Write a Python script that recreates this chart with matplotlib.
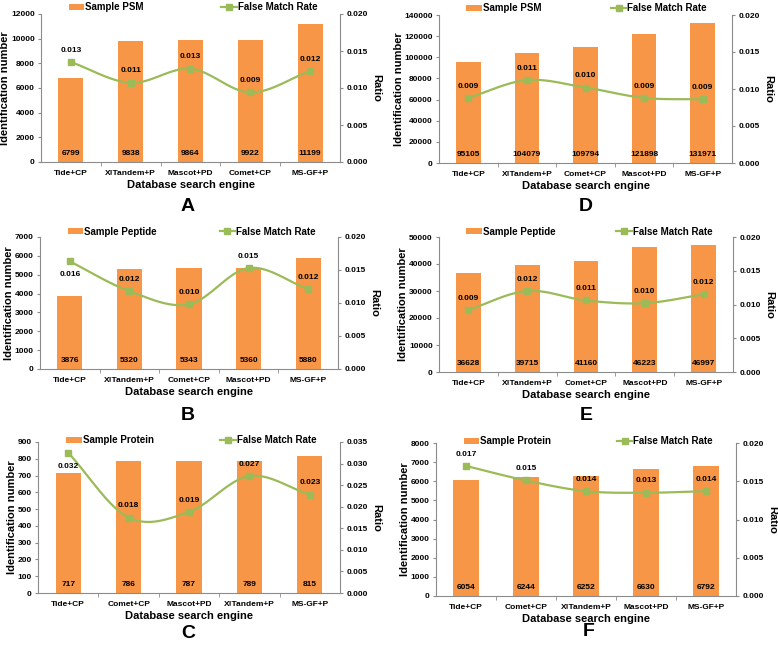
import numpy as np
import matplotlib
matplotlib.use("Agg")
import matplotlib.pyplot as plt
from matplotlib.lines import Line2D
from matplotlib.patches import Patch

plt.rcParams['font.family'] = ['Liberation Sans', 'DejaVu Sans']
plt.rcParams['font.weight'] = 'bold'

# ---------------- data ----------------
cats_A = ["Tide+CP", "X!Tandem+P", "Mascot+PD", "Comet+CP", "MS-GF+P"]
psm_A = [6799, 9838, 9864, 9922, 11199]
fmr_A = [0.0135, 0.0107, 0.0126, 0.0094, 0.0123]
fmr_lab_A = ["0.013", "0.011", "0.013", "0.009", "0.012"]

cats_D = ["Tide+CP", "X!Tandem+P", "Comet+CP", "Mascot+PD", "MS-GF+P"]
psm_D = [95105, 104079, 109794, 121898, 131971]
fmr_D = [0.0088, 0.0112, 0.0102, 0.0088, 0.0086]
fmr_lab_D = ["0.009", "0.011", "0.010", "0.009", "0.009"]

cats_B = ["Tide+CP", "X!Tandem+P", "Comet+CP", "Mascot+PD", "MS-GF+P"]
pep_B = [3876, 5320, 5343, 5360, 5880]
fmr_B = [0.0163, 0.0118, 0.0098, 0.0153, 0.0121]
fmr_lab_B = ["0.016", "0.012", "0.010", "0.015", "0.012"]

cats_E = ["Tide+CP", "X!Tandem+P", "Comet+CP", "Mascot+PD", "MS-GF+P"]
pep_E = [36628, 39715, 41160, 46223, 46997]
fmr_E = [0.0092, 0.0120, 0.0106, 0.0102, 0.0115]
fmr_lab_E = ["0.009", "0.012", "0.011", "0.010", "0.012"]

cats_C = ["Tide+CP", "Comet+CP", "Mascot+PD", "X!Tandem+P", "MS-GF+P"]
prot_C = [717, 786, 787, 789, 815]
fmr_C = [0.0325, 0.0175, 0.0188, 0.0271, 0.0228]
fmr_lab_C = ["0.032", "0.018", "0.019", "0.027", "0.023"]

cats_F = ["Tide+CP", "Comet+CP", "X!Tandem+P", "Mascot+PD", "MS-GF+P"]
prot_F = [6054, 6244, 6252, 6630, 6792]
fmr_F = [0.0170, 0.0151, 0.0137, 0.0135, 0.0137]
fmr_lab_F = ["0.017", "0.015", "0.014", "0.013", "0.014"]

BAR = "#F79646"
GREEN = "#9BBB59"
GRAY = "#8C8C8C"
W, H = 778, 645


def smooth(xs, ys, n=30):
    xs = np.asarray(xs, float); ys = np.asarray(ys, float)
    px = np.concatenate([[2 * xs[0] - xs[1]], xs, [2 * xs[-1] - xs[-2]]])
    py = np.concatenate([[2 * ys[0] - ys[1]], ys, [2 * ys[-1] - ys[-2]]])
    ox, oy = [], []
    for i in range(1, len(px) - 2):
        t = np.linspace(0, 1, n, endpoint=False)
        for arr, out in ((px, ox), (py, oy)):
            p0, p1, p2, p3 = arr[i - 1], arr[i], arr[i + 1], arr[i + 2]
            out.extend(0.5 * ((2 * p1) + (-p0 + p2) * t +
                              (2 * p0 - 5 * p1 + 4 * p2 - p3) * t ** 2 +
                              (-p0 + 3 * p1 - 3 * p2 + p3) * t ** 3))
    ox.append(xs[-1]); oy.append(ys[-1])
    return np.array(ox), np.array(oy)


def panel(px_box, cats, vals, fmr, fmr_lab, ymax, ystep, rmax, rstep,
          bar_label, letter, letter_xy, lab_below=(), leg_y=1.02,
          leg_x=(0.08, 0.59)):
    fig = plt.gcf()
    l, t, r, b = px_box
    ax = fig.add_axes([l / W, 1 - b / H, (r - l) / W, (b - t) / H])
    x = np.arange(len(cats))
    ax.bar(x, vals, width=0.42, color=BAR, zorder=2)
    for xi, v in zip(x, vals):
        ax.text(xi, ymax * 0.035, f"{v}", ha="center", va="bottom",
                fontsize=6, fontweight="bold", zorder=5)
    ax.set_xlim(-0.5, len(cats) - 0.5)
    ax.set_ylim(0, ymax)
    yt = np.arange(0, ymax + ystep / 2, ystep)
    ax.set_yticks(yt)
    ax.set_yticklabels([f"{int(v)}" for v in yt])
    ax.set_xticks(x)
    ax.set_xticklabels(cats)
    ax.set_xticks(np.arange(0.5, len(cats) - 0.5, 1), minor=True)
    ax.tick_params(axis="x", which="major", length=0, pad=6, labelsize=6)
    ax.tick_params(axis="x", which="minor", length=3, color=GRAY, direction="out")
    ax.tick_params(axis="y", length=2.5, color=GRAY, labelsize=6, pad=2)
    for s in ("top", "right"):
        ax.spines[s].set_visible(False)
    for s in ("left", "bottom"):
        ax.spines[s].set_color(GRAY)
        ax.spines[s].set_linewidth(0.8)
    ax.set_ylabel("Identification number", fontsize=8, fontweight="bold", labelpad=0.5)
    ax.set_xlabel("Database search engine", fontsize=8, fontweight="bold", labelpad=2)

    ax2 = ax.twinx()
    ax2.set_ylim(0, rmax)
    rt = np.arange(0, rmax + rstep / 2, rstep)
    ax2.set_yticks(rt)
    ax2.set_yticklabels([f"{v:.3f}" for v in rt])
    ax2.tick_params(axis="y", length=2.5, color=GRAY, labelsize=6, pad=2)
    for s in ("top", "left", "bottom"):
        ax2.spines[s].set_visible(False)
    ax2.spines["right"].set_color(GRAY)
    ax2.spines["right"].set_linewidth(0.8)
    ax2.set_ylabel("Ratio", fontsize=8, fontweight="bold", rotation=-90, labelpad=10)
    sx, sy = smooth(x, fmr)
    ax2.plot(sx, sy, color=GREEN, lw=1.6, zorder=3)
    ax2.plot(x, fmr, ls="none", marker="s", ms=5, color=GREEN, zorder=4)
    for i, (xi, f, lab) in enumerate(zip(x, fmr, fmr_lab)):
        if i in lab_below:
            ax2.annotate(lab, (xi, f), xytext=(0, -7), textcoords="offset points",
                         ha="center", va="top", fontsize=6, fontweight="bold")
        else:
            ax2.annotate(lab, (xi, f), xytext=(0, 6), textcoords="offset points",
                         ha="center", va="bottom", fontsize=6, fontweight="bold")

    h1 = Patch(facecolor=BAR, edgecolor="none")
    h2 = Line2D([], [], color=GREEN, lw=1.6, marker="s", ms=4)
    ax.legend([h1], [bar_label], loc="center left", bbox_to_anchor=(leg_x[0], leg_y),
              frameon=False, handlelength=1.6, handleheight=0.5,
              handletextpad=0.1, borderaxespad=0, prop={"weight": "bold", "size": 7})
    ax2.legend([h2], ["False Match Rate"], loc="center left",
               bbox_to_anchor=(leg_x[1], leg_y), frameon=False, handlelength=1.6,
               handletextpad=0.1, borderaxespad=0, prop={"weight": "bold", "size": 7})
    fig.text(letter_xy[0] / W, 1 - letter_xy[1] / H, letter, ha="center",
             va="center", fontsize=14, fontweight="bold")
    return ax


fig = plt.figure(figsize=(7.78, 6.45), dpi=100)

panel((41, 14, 340, 162), cats_A, psm_A, fmr_A, fmr_lab_A,
      12000, 2000, 0.020, 0.005, "Sample PSM", "A", (188, 206), leg_y=1.045)
panel((439, 15, 732, 163), cats_D, psm_D, fmr_D, fmr_lab_D,
      140000, 20000, 0.020, 0.005, "Sample PSM", "D", (586, 206), leg_y=1.045,
      leg_x=(0.08, 0.573))
panel((40, 237, 338, 369), cats_B, pep_B, fmr_B, fmr_lab_B,
      7000, 1000, 0.020, 0.005, "Sample Peptide", "B", (188, 415),
      lab_below=(0,), leg_y=1.04)
panel((439, 237, 733, 372), cats_E, pep_E, fmr_E, fmr_lab_E,
      50000, 10000, 0.020, 0.005, "Sample Peptide", "E", (586, 415), leg_y=1.04)
panel((38, 442, 340, 593), cats_C, prot_C, fmr_C, fmr_lab_C,
      900, 100, 0.035, 0.005, "Sample Protein", "C", (188, 634),
      lab_below=(0,), leg_y=1.01)
panel((436, 443, 736, 596), cats_F, prot_F, fmr_F, fmr_lab_F,
      8000, 1000, 0.020, 0.005, "Sample Protein", "F", (589, 632), leg_y=1.01)

fig.savefig("out.png", dpi=100)
